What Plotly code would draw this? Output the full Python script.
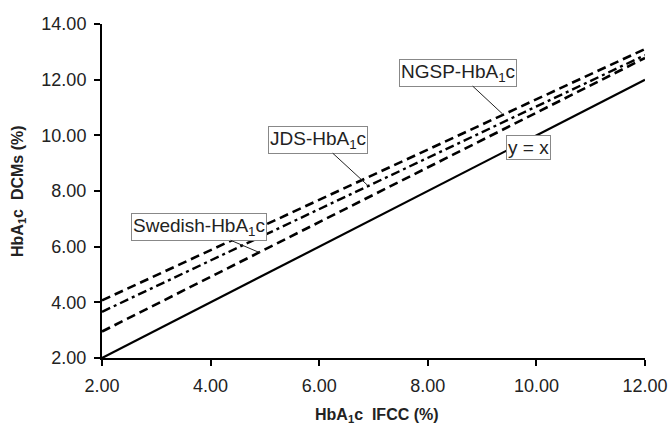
import plotly.graph_objects as go

ifcc = [2.0, 12.0]
ngsp = [4.07, 13.10]
jds = [3.66, 12.88]
swedish = [2.95, 12.78]
identity = [2.0, 12.0]
tick_vals_x = [2, 4, 6, 8, 10, 12]
tick_vals_y = [2, 4, 6, 8, 10, 12, 14]

fig = go.Figure()
fig.add_trace(go.Scatter(x=ifcc, y=ngsp, mode="lines",
                         line=dict(color="black", width=2.6, dash="9px,5px")))
fig.add_trace(go.Scatter(x=ifcc, y=jds, mode="lines",
                         line=dict(color="black", width=2.4, dash="9px,4px,3px,4px")))
fig.add_trace(go.Scatter(x=ifcc, y=swedish, mode="lines",
                         line=dict(color="black", width=2.6, dash="9px,5px")))
fig.add_trace(go.Scatter(x=ifcc, y=identity, mode="lines",
                         line=dict(color="black", width=2.2)))

font = dict(family="Liberation Sans, Arial", size=19, color="#222")
box = dict(bordercolor="#888", borderwidth=1, bgcolor="white", borderpad=1,
           font=font, arrowhead=0, arrowwidth=1, arrowcolor="#222", showarrow=True)

fig.add_annotation(x=9.37, y=10.78, ax=-44, ay=-41, text="NGSP-HbA<sub>1</sub>c", **box)
fig.add_annotation(x=6.90, y=8.19, ax=-50, ay=-46, text="JDS-HbA<sub>1</sub>c", **box)
fig.add_annotation(x=4.91, y=5.78, ax=-61, ay=-26, text="Swedish-HbA<sub>1</sub>c", **box)
b2 = dict(box)
b2["showarrow"] = False
fig.add_annotation(x=(528 - 102) / 54.3 + 2, y=2 + (358 - 148) / 27.8, text="y = x", **b2)

title_font = dict(family="Liberation Sans, Arial", size=16, color="#222")
fig.add_annotation(xref="paper", yref="paper", x=0.507, y=0, yshift=-57,
                   yanchor="middle", showarrow=False,
                   text="<b>HbA<sub>1</sub>c  IFCC (%)</b>", font=title_font)
fig.add_annotation(xref="paper", yref="paper", x=0, y=0.5, xshift=-84,
                   xanchor="center", showarrow=False, textangle=-90,
                   text="<b>HbA<sub>1</sub>c  DCMs (%)</b>", font=title_font)

axis_common = dict(showline=True, linecolor="black", linewidth=2, ticks="outside",
                   ticklen=6, tickwidth=2, tickcolor="black", showgrid=False,
                   zeroline=False, tickformat=".2f", automargin=False,
                   ticklabelstandoff=4, ticklabeloverflow="allow",
                   tickfont=dict(family="Liberation Sans, Arial", size=18, color="#222"))

fig.update_xaxes(range=[2, 12], tickvals=tick_vals_x, **axis_common)
fig.update_yaxes(range=[2, 14], tickvals=tick_vals_y, **axis_common)

fig.update_layout(width=671, height=424, showlegend=False,
                  plot_bgcolor="white", paper_bgcolor="white",
                  margin=dict(l=102, r=26, t=24, b=66))

fig.write_html("out.html", config={"displayModeBar": False},
               post_script="document.body.style.margin='0px';document.body.style.overflow='hidden';")
